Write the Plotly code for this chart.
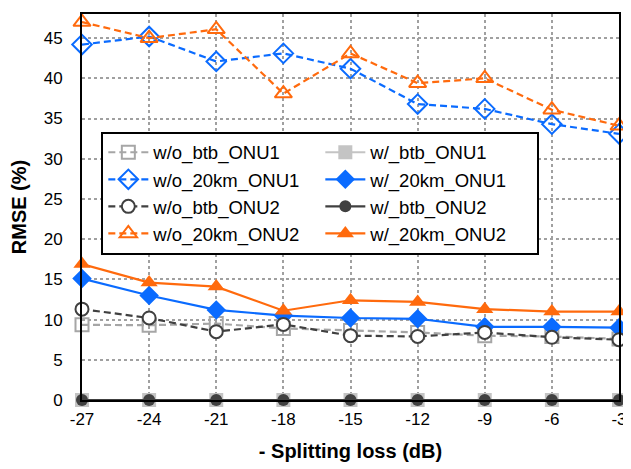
import plotly.graph_objects as go

x_vals = [-27, -24, -21, -18, -15, -12, -9, -6, -3]

wo_btb_onu1 = [9.35, 9.3, 9.5, 8.9, 8.65, 8.4, 8.0, 7.9, 7.6]
w_btb_onu1 = [0, 0, 0, 0, 0, 0, 0, 0, 0]
wo_20km_onu1 = [44.2, 45.2, 42.1, 43.1, 41.2, 36.8, 36.2, 34.3, 33.1]
w_20km_onu1 = [15.1, 13.0, 11.2, 10.5, 10.2, 10.1, 9.1, 9.1, 9.0]
wo_btb_onu2 = [11.3, 10.2, 8.5, 9.4, 8.0, 7.9, 8.4, 7.8, 7.5]
w_btb_onu2 = [0, 0, 0, 0, 0, 0, 0, 0, 0]
wo_20km_onu2 = [47.0, 45.0, 46.1, 38.1, 43.1, 39.4, 40.0, 36.1, 34.1]
w_20km_onu2 = [16.9, 14.6, 14.1, 11.1, 12.4, 12.2, 11.3, 11.0, 11.0]

y_ticks = [0, 5, 10, 15, 20, 25, 30, 35, 40, 45]

BLUE = "#0A6BFF"
ORANGE = "#FF6A0D"
DARK = "#404040"
LIGHT = "#A6A6A6"
LIGHTFILL = "#C4C4C4"
DASH = "7px,4px"

series = [
    ("w/o_btb_ONU1", wo_btb_onu1, LIGHT, DASH, "square-open", 13, LIGHT),
    ("w/_btb_ONU1", w_btb_onu1, LIGHTFILL, "solid", "square", 14, LIGHTFILL),
    ("w/o_20km_ONU1", wo_20km_onu1, BLUE, DASH, "diamond-open", 15, BLUE),
    ("w/_20km_ONU1", w_20km_onu1, BLUE, "solid", "diamond", 15, BLUE),
    ("w/o_btb_ONU2", wo_btb_onu2, DARK, DASH, "circle", 13, DARK),
    ("w/_btb_ONU2", w_btb_onu2, DARK, "solid", "circle", 12, DARK),
    ("w/o_20km_ONU2", wo_20km_onu2, ORANGE, DASH, "triangle-up-open", 15, ORANGE),
    ("w/_20km_ONU2", w_20km_onu2, ORANGE, "solid", "triangle-up", 15, ORANGE),
]

fig = go.Figure()
for name, ys, color, dash, symbol, size, mcolor in series:
    marker = dict(symbol=symbol, size=size, color=mcolor)
    if name == "w/o_btb_ONU2":
        marker = dict(symbol="circle", size=size, color="white",
                      line=dict(color=DARK, width=2))
    elif symbol.endswith("-open"):
        marker["line"] = dict(width=2, color=mcolor)
    fig.add_trace(go.Scatter(
        x=x_vals, y=ys, name=name, mode="lines+markers",
        line=dict(color=color, width=2.2, dash=dash),
        marker=marker, cliponaxis=False,
    ))

# page body has an 8px default margin, so the figure is 8px smaller
fig.update_layout(
    width=623, height=461,
    margin=dict(l=74, r=9, t=4, b=69),
    paper_bgcolor="white", plot_bgcolor="white",
    font=dict(family="Arial, Liberation Sans, sans-serif", size=17, color="black"),
    showlegend=True,
    legend=dict(
        orientation="h", x=0.036, y=0.695, xanchor="left", yanchor="top",
        entrywidth=162, entrywidthmode="pixels",
        bgcolor="white", bordercolor="black", borderwidth=2,
        font=dict(size=18.5, color="black"),
        itemwidth=40,
    ),
    xaxis=dict(
        range=[-27, -3], tickvals=x_vals, ticktext=[str(v) for v in x_vals],
        showgrid=True, gridcolor="#A0A0A0", griddash="dot", gridwidth=1.5,
        showline=True, linecolor="black", linewidth=2, mirror=True,
        zeroline=False, ticks="", ticklabelstandoff=3,
        title=dict(text="<b>- Splitting loss (dB)</b>", font=dict(size=20), standoff=16),
    ),
    yaxis=dict(
        range=[0, 48], tickvals=y_ticks,
        showgrid=True, gridcolor="#A0A0A0", griddash="dot", gridwidth=1.5,
        showline=True, linecolor="black", linewidth=2, mirror=True,
        zeroline=False, ticks="", ticklabelstandoff=14,
        title=dict(text="<b>RMSE (%)</b>", font=dict(size=20), standoff=18),
    ),
)

fig.write_html("out.html")
